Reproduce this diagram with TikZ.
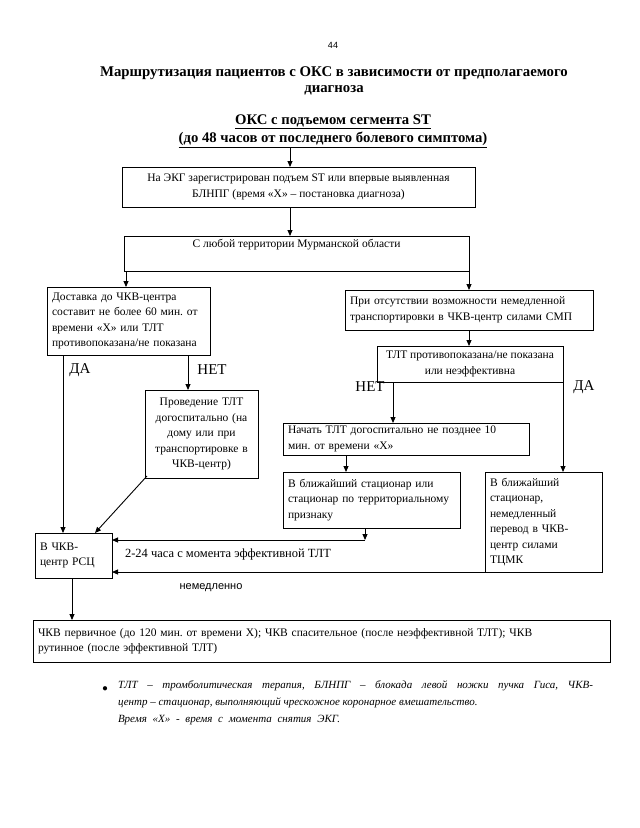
\documentclass[tikz,border=0pt]{standalone}
\usepackage{fontspec}
\setmainfont{Liberation Serif}
\newfontfamily\arialfont{Liberation Sans}
\frenchspacing
\usetikzlibrary{arrows.meta}
\newcommand{\boxfont}{\fontsize{11.5}{15.5}\selectfont}
\newcommand{\branchfont}{\fontsize{15}{17}\selectfont}
\tikzstyle{box}=[draw, line width=0.9pt, inner xsep=5pt, inner ysep=0, outer sep=0, font=\boxfont]
\tikzstyle{lbox}=[box, align=left]
\tikzstyle{cbox}=[box, align=center]
\tikzstyle{txt}=[inner sep=0, outer sep=0]
\tikzstyle{arr}=[line width=0.9pt, -{Triangle[length=6pt, width=5pt]}]
\tikzstyle{flowchart}=[x=1pt, y=-1pt,
                       % Page size of the reference.
                       execute at begin picture={\useasboundingbox (0,0) rectangle (640,828);}]

\begin{document}
\begin{tikzpicture}[flowchart]
    % Heading
    \node[txt, font=\arialfont\fontsize{9}{11}\selectfont] (page) at (333, 45) {44};
    \node[txt, align=center, font=\bfseries\fontsize{14.8}{16.5}\selectfont] (title) at (334, 81)
        {Маршрутизация пациентов с ОКС в зависимости от предполагаемого\\диагноза};
    \node[txt, align=center, font=\bfseries\fontsize{14.7}{18}\selectfont] (sub) at (333, 131)
        {\underline{ОКС с подъемом сегмента ST}\\\underline{(до 48 часов от последнего болевого симптома)}};
    % Boxes
    \node[cbox, minimum width=353pt, minimum height=40pt] (ecg) at (298.5, 187)
        {На ЭКГ зарегистрирован подъем ST или впервые выявленная\\БЛНПГ (время «Х» – постановка диагноза)};
    \node[box, minimum width=345pt, minimum height=35pt] (terr) at (296.5, 253.5) {};
    \node[txt, font=\boxfont, below=3pt] (terrlbl) at (terr.north) {С любой территории Мурманской области};
    \node[lbox, text width=153pt, minimum height=68pt] (deliv) at (128.5, 321)
        {Доставка до ЧКВ-центра\\составит не более 60 мин. от\\времени «Х» или ТЛТ\\противопоказана/не показана};
    \node[cbox, text width=103pt, minimum height=88pt] (prehosp) at (201.5, 434)
        {Проведение ТЛТ\\догоспитально (на\\дому или при\\транспортировке в\\ЧКВ-центр)};
    \node[lbox, text width=238pt, minimum height=40pt] (nosmp) at (469, 310)
        {При отсутствии возможности немедленной\\транспортировки в ЧКВ-центр силами СМП};
    \node[cbox, minimum width=186pt, minimum height=36pt] (tlt) at (470, 364)
        {ТЛТ противопоказана/не показана\\или неэффективна};
    \node[lbox, text width=236pt, minimum height=32pt] (start) at (406, 439)
        {Начать ТЛТ догоспитально не позднее 10\\мин. от времени «Х»};
    \node[lbox, text width=167pt, minimum height=56pt] (near) at (371.5, 500)
        {В ближайший стационар или\\стационар по территориальному\\признаку};
    \node[lbox, text width=107pt, minimum height=100pt] (transfer) at (543.5, 522)
        {В ближайший\\стационар,\\немедленный\\перевод в ЧКВ-\\центр силами\\ТЦМК};
    \node[lbox, text width=67pt, minimum height=45pt] (rsc) at (73.5, 555.5)
        {В ЧКВ-\\центр РСЦ};
    \node[lbox, text width=567pt, minimum height=42pt] (pci) at (321.5, 641)
        {ЧКВ первичное (до 120 мин. от времени Х); ЧКВ спасительное (после неэффективной ТЛТ); ЧКВ\\рутинное (после эффективной ТЛТ)};
    % Branch labels
    \node[txt, font=\branchfont] (yes1) at (80, 370) {ДА};
    \node[txt, font=\branchfont] (no1) at (212, 370) {НЕТ};
    \node[txt, font=\branchfont] (no2) at (370, 387) {НЕТ};
    \node[txt, font=\branchfont] (yes2) at (584, 387) {ДА};
    \node[txt, anchor=west, font=\fontsize{12.5}{14}\selectfont] (hours) at (125, 554) {2-24 часа с момента эффективной ТЛТ};
    \node[txt, font=\arialfont\fontsize{11}{12}\selectfont] (now) at (211, 588) {немедленно};
    % Connectors
    \coordinate (subfoot) at (290, 147);
    \coordinate (bend) at (365, 540);
    \draw[arr] (subfoot) -- (subfoot |- ecg.north);
    \draw[arr] (ecg.south -| subfoot) -- (terr.north -| subfoot);
    \draw[arr] (terr.south west) ++(2pt, 0) -- (126, 0 |- deliv.north);
    \draw[arr] (terr.south east) -- (terr.south east |- nosmp.north);
    \draw[arr] (deliv.south -| 63, 0) -- (63, 0 |- rsc.north);
    \draw[arr] (deliv.south -| 188, 0) -- (188, 0 |- prehosp.north);
    \draw[arr] (prehosp.south west) ++(2pt, 2pt) -- (95, 0 |- rsc.north);
    \draw[arr] (nosmp.south -| terr.south east) -- (tlt.north -| terr.south east);
    \draw[arr] (tlt.south -| 393, 0) -- (393, 0 |- start.north);
    \draw[arr] (tlt.south east) -- (tlt.south east |- transfer.north);
    \draw[arr] (start.south -| 346, 0) -- (346, 0 |- near.north);
    \draw[arr] (near.south -| bend) -- (bend);
    \draw[arr] (bend) -- (bend -| rsc.east);
    \draw[arr] (transfer.south west) -- (transfer.south west -| rsc.east);
    \draw[arr] (rsc.south -| 72, 0) -- (72, 0 |- pci.north);
    % Footnote
    \node[txt, font=\fontsize{11}{12}\selectfont] (bullet) at (105, 689) {$\bullet$};
    \node[txt, anchor=north west, align=left, font=\itshape\fontsize{11}{17}\selectfont] (note) at (118, 681)
        {\makebox[475pt][s]{ТЛТ – тромболитическая терапия, БЛНПГ – блокада левой ножки пучка Гиса, ЧКВ-}\\
         центр – стационар, выполняющий чрескожное коронарное вмешательство.\\
         \makebox[222pt][s]{Время «Х» - время с момента снятия ЭКГ.}};
\end{tikzpicture}
\end{document}
